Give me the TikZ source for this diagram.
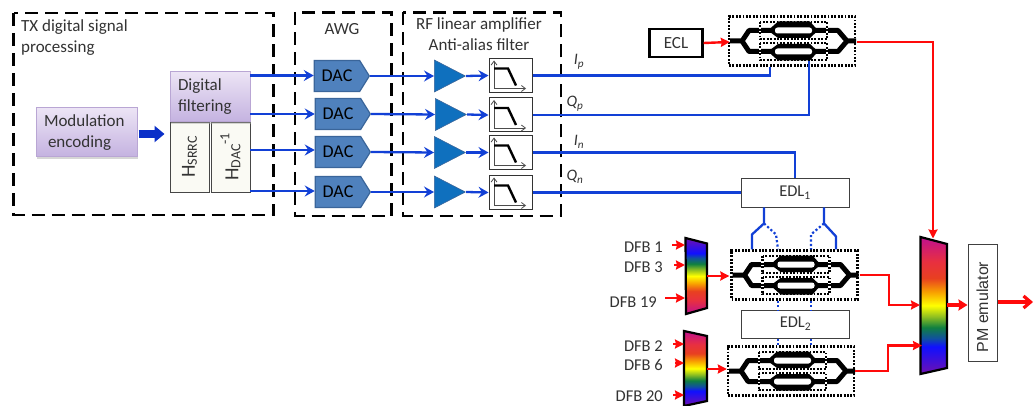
\documentclass[tikz,border=0pt]{standalone}
\usepackage{fontspec}
\setmainfont{Carlito}
\newfontfamily\arialf{Liberation Sans}
\usetikzlibrary{arrows.meta,calc,shadows,shapes.geometric,shapes.symbols}
\definecolor{sigblue}{HTML}{1240D6}
\definecolor{thickblue}{HTML}{0A2FC8}
\definecolor{redl}{HTML}{FF0A0A}
\definecolor{dacfill}{HTML}{4F81BD}
\definecolor{dacline}{HTML}{3A659A}
\definecolor{ampfill}{HTML}{0F70BE}
\definecolor{txtc}{HTML}{333333}
\definecolor{purpline}{HTML}{B9A6D4}
\definecolor{purptop}{HTML}{ECE4F5}
\definecolor{purpbot}{HTML}{C4B2E0}
\definecolor{hline}{HTML}{464646}
\definecolor{hfill}{HTML}{FAFAF4}
\definecolor{spA}{HTML}{7010B0}
\definecolor{spB}{HTML}{1010FF}
\definecolor{spC}{HTML}{1050A0}
\definecolor{spD}{HTML}{108040}
\definecolor{spE}{HTML}{90C020}
\definecolor{spF}{HTML}{FFFF00}
\definecolor{spG}{HTML}{F8A000}
\definecolor{spH}{HTML}{E84020}
\definecolor{spI}{HTML}{E83040}
\definecolor{spJ}{HTML}{C0108F}
\pgfdeclareverticalshading{specband}{100bp}{
 color(0bp)=(spA); color(25bp)=(spA);
 color(35bp)=(spB); color(38bp)=(spC); color(42bp)=(spD);
 color(46bp)=(spE); color(50bp)=(spF); color(55bp)=(spG);
 color(60bp)=(spH); color(66bp)=(spI); color(75bp)=(spJ);
 color(100bp)=(spJ)}
\tikzset{
 groupbox/.style={draw=black,line width=2.4pt,dash pattern=on 13pt off 7pt},
 purplebox/.style={draw=purpline,line width=1pt,top color=purptop,bottom color=purpbot,general shadow={fill=black!35,opacity=.45,shadow xshift=1pt,shadow yshift=-2pt},inner sep=0pt,text=txtc,font=\fontsize{17}{21}\selectfont,align=left},
 hbox/.style={draw=hline,line width=.8pt,fill=hfill,minimum width=39pt,minimum height=70pt,inner sep=0pt},
 dacbox/.style={signal,signal to=east,signal pointer angle=116,draw=dacline,line width=1.2pt,fill=dacfill,minimum width=55pt,minimum height=31pt,inner sep=0pt,text=black,font=\fontsize{18}{20}\selectfont},
 ampbox/.style={isosceles triangle,isosceles triangle stretches,minimum width=32pt,minimum height=31pt,inner sep=0pt,draw=dacline,line width=.6pt,fill=ampfill},
 filbox/.style={draw=black!80,line width=1pt,fill=white,minimum width=43pt,minimum height=34pt,inner sep=0pt},
 sig/.style={draw=sigblue,line width=2.3pt},
 sigarrow/.style={sig,-{Stealth[length=10pt,width=11pt,inset=3.5pt]}},
 sigdot/.style={draw=sigblue,line width=2.2pt,dash pattern=on 2.2pt off 2.2pt},
 rl/.style={draw=redl,line width=2.4pt},
 rlarrow/.style={rl,-{Stealth[length=9pt,width=9pt,inset=1pt]}},
 wg/.style={draw=black,line width=5pt,line join=round},
 dotb/.style={draw=black,line width=2.4pt,dash pattern=on 1.9pt off 1.5pt},
 whb/.style={draw=white,line width=2.4pt},
 modbox/.style={dotb,minimum width=126pt,minimum height=49pt,inner sep=0pt},
 edlbox/.style={draw=black!75,line width=.9pt,fill=white,minimum width=108pt,minimum height=29pt,inner sep=0pt,text=txtc,font=\fontsize{16.5}{18}\selectfont},
 lbl/.style={inner sep=0pt,text=txtc,font=\fontsize{17}{20}\selectfont},
 dfb/.style={inner sep=0pt,anchor=east,text=txtc,font=\fontsize{16.5}{18}\selectfont},
 iq/.style={inner sep=0pt,text=txtc,font=\fontsize{16}{18}\selectfont\itshape},
 mux/.style={draw=black,line width=2.2pt,line join=miter,shade,shading=specband}
}
\newcommand\iqmod[3]{%
 \node[modbox] (#1) at (#2,#3) {};
 \begin{scope}[shift={(#2,#3)}]
  \draw[wg] (-62,0) -- (-50,0) -- (-43,-10.5) -- (46,-10.5) -- (55,0) -- (64,0);
  \draw[wg] (-50,0) -- (-43,10.5) -- (46,10.5) -- (55,0);
  \foreach \a/\b in {-19/-2,2/19}{
   \draw[whb] (-32,\a) rectangle (35,\b);
   \draw[dotb] (-32,\a) rectangle (35,\b);
  }
  \foreach \s in {-1,1}{
   \fill[black] (-24,\s*10.5) -- (-14,\s*19.5) -- (18,\s*19.5) -- (26,\s*10.5) -- (18,\s*3) -- (-14,\s*3) -- cycle;
   \fill[white,rounded corners=2.5pt] (-17,\s*13.5) rectangle (20,\s*7.5);
  }
 \end{scope}}
\newcommand\filt[2]{%
 \node[filbox] (#1) at (510.5,#2) {};
 \begin{scope}[shift={(510.5,#2)}]
  \draw[draw=black!70,line width=.8pt,{Straight Barb[length=4pt,width=6pt]}-{Straight Barb[length=4pt,width=6pt]}] (-16.5,-15) -- (-16.5,13) -- (15.5,13);
  \draw[draw=black,line width=2.4pt] (-16.5,-7) -- (-2.5,-7) -- (5.5,10);
 \end{scope}}
\begin{document}
\begin{tikzpicture}[x=1pt,y=-1pt]
\useasboundingbox[fill=white] (0,0) rectangle (1033,406);
% group boxes
\draw[groupbox] (13.5,13) rectangle (273.5,215);
\draw[groupbox] (295,12.5) rectangle (391.5,216);
\draw[groupbox] (403,12.5) rectangle (561,216);
\node[lbl,anchor=west] (ttl1) at (21,27) {TX digital signal};
\node[lbl,anchor=west] (ttl2) at (21,48) {processing};
\node[lbl] (ttl3) at (342,29) {AWG};
\node[lbl] (ttl4) at (479,24.5) {RF linear amplifier};
\node[lbl] (ttl5) at (479,45) {Anti-alias filter};
% DSP
\node[purplebox,minimum width=101pt,minimum height=49pt,text width=85pt] (modenc) at (86.5,132.5) {Modulation\\\hspace*{4pt}encoding};
\node[hbox] (hs) at (189.5,157) {\rotatebox{90}{\fontsize{20}{20}\selectfont\color{txtc}H\raisebox{-2pt}{\fontsize{14}{14}\selectfont SRRC}}};
\node[hbox] (hd) at (230.5,157) {\rotatebox{90}{\fontsize{20}{20}\selectfont\color{txtc}H\raisebox{-2pt}{\fontsize{14}{14}\selectfont DAC}\raisebox{9pt}{\fontsize{14}{14}\selectfont -1}}};
\node[purplebox,minimum width=80pt,minimum height=50pt,text width=64pt] (digf) at (210,97) {Digital\\filtering};
\draw[draw=thickblue,line width=8pt,-{Triangle[length=10pt,width=16pt]}] (138.5,134) -- (164.5,134);
% DACs, amps, filters
\foreach \n/\y/\x in {1/76/337,2/114/338,3/152/338,4/192/338}{
 \node[dacbox] (dac\n) at (\x,\y) {DAC};
}
\foreach \n/\y/\x in {1/76/434,2/114.5/435,3/152.5/434,4/192/434}{
 \node[ampbox,anchor=lower side] (amp\n) at (\x,\y) {};
}
\filt{fil1}{75.5}
\filt{fil2}{115}
\filt{fil3}{152.5}
\filt{fil4}{192.5}
\coordinate (d1) at (250,75.5);
\coordinate (d2) at (250,114);
\coordinate (d3) at (250,150);
\coordinate (d4) at (250,191);
\foreach \n in {1,2,3,4}{
 \draw[sigarrow] (d\n) -- (dac\n.west |- d\n);
 \draw[sigarrow] (dac\n.east) -- (amp\n.lower side);
 \draw[sigarrow] (amp\n.apex) -- (fil\n.west);
}
\node[iq] (lip) at (579,62) {I\textsubscript{p}};
\node[iq] (lqp) at (575,104) {Q\textsubscript{p}};
\node[iq] (lin) at (579,142) {I\textsubscript{n}};
\node[iq] (lqn) at (575,177) {Q\textsubscript{n}};
% right part
\node[draw=black,line width=2.2pt,minimum width=53pt,minimum height=28pt,inner sep=0pt,text=txtc,font=\fontsize{17}{20}\selectfont] (ecl) at (676,43) {ECL};
\iqmod{mzA}{792}{41}
\iqmod{mzB}{794.5}{275}
\iqmod{mzC}{791}{371}
\node[edlbox] (edlA) at (795,192.5) {EDL\textsubscript{1}};
\node[edlbox,minimum height=28pt] (edlB) at (795.5,324) {EDL\textsubscript{2}};
\draw[sig] (fil1.east) -| ($(mzA.south)+(-22,0)$);
\draw[sig] (fil2.east) -| ($(mzA.south)+(17,-6)$);
\draw[sig] (fil3.east) -| (edlA.north);
\draw[sig] (fil4.east) -- (edlA.west);
% EDL1 to modulator
\coordinate (jl) at ($(edlA.south)+(-31,16)$);
\coordinate (jr) at ($(edlA.south)+(29,16)$);
\draw[sig,line join=round] ($(edlA.south)+(-31,0)$) -- (jl) -- ($(jl)+(-12,11)$) -- ($(mzB.north)+(-42.5,0)$);
\draw[sig,line join=round] ($(edlA.south)+(29,0)$) -- (jr) -- ($(jr)+(12,13)$) -- ($(mzB.north)+(41.5,0)$);
\draw[sigdot] (jl) -- ($(jl)+(12,11)$) -- ($(mzB.north)+(-16.5,0)$);
\draw[sigdot] (jr) -- ($(jr)+(-13,11)$) -- ($(mzB.north)+(16.5,0)$);
\foreach \o in {-16.5,16.5}{
 \draw[sigdot] ($(mzB.south)+(\o,0)$) -- ($(mzB.south)+(\o,10)$);
 \draw[sigdot] ($(mzB.south)+(\o,38)$) -- ($(mzB.south)+(\o,46)$);
}
% multiplexers
\draw[mux,shading angle=180] (685.5,238) -- (707,243.5) -- (707,308) -- (686,314) -- cycle;
\draw[mux] (684,331) -- (707,336) -- (707,401) -- (684,406) -- cycle;
\draw[mux] (920.5,237) -- (947,244) -- (947,368) -- (920.5,374) -- cycle;
\coordinate (mux1o) at (707,276);
\coordinate (mux2o) at (707,369);
\coordinate (mux3t) at (933,238.5);
\coordinate (mux3a) at (920,305);
\coordinate (mux3b) at (922,345.5);
\coordinate (mux3o) at (947,305);
\foreach \n/\t/\y/\r in {f1/DFB 1/247/663,f3/DFB 3/267/663,f19/DFB 19/302/657,f2/DFB 2/346/663,f6/DFB 6/365/663,f20/DFB 20/396/663}{
 \node[dfb] (\n) at (\r,\y) {\t};
}
\draw[rlarrow] ($(f1.east)+(9,-2)$) -- ($(f1.east)+(22,-2)$);
\draw[rlarrow] ($(f3.east)+(11,-2)$) -- ($(f3.east)+(22,-2)$);
\draw[rlarrow] ($(f19.east)+(8,-4)$) -- ($(f19.east)+(28,-4)$);
\draw[rlarrow] ($(f2.east)+(10,-2)$) -- ($(f2.east)+(21,-2)$);
\draw[rlarrow] ($(f6.east)+(12,-2)$) -- ($(f6.east)+(21,-2)$);
\draw[rlarrow] ($(f20.east)+(10,-1)$) -- ($(f20.east)+(21,-1)$);
\draw[rlarrow] (ecl.east) -- ($(mzA.west)+(2,1)$);
\draw[rlarrow] (mux1o) -- ($(mzB.west)+(-1,1)$);
\draw[rlarrow] (mux2o) -- ($(mzC.west)+(0,-2)$);
\draw[rlarrow] ($(mzA.east)+(1,1)$) -| (mux3t);
\draw[rlarrow] ($(mzB.east)+(1,0)$) -- (889,275) -- (889,305) -- (mux3a);
\draw[rlarrow] ($(mzC.east)+(0,0)$) -- (888,371) -- (888,345.5) -- (mux3b);
\node[draw=black!75,line width=1pt,minimum width=29pt,minimum height=117pt,inner sep=0pt] (pm) at (982.5,302.5) {\rotatebox{90}{\arialf\fontsize{16}{18}\selectfont\color{txtc}PM emulator\hspace{9pt}}};
\draw[draw=redl,line width=3.4pt,-{Stealth[length=9pt,width=11pt,inset=1pt]}] (mux3o) -- (pm.west |- mux3o);
\coordinate (outp) at (1033,302);
\draw[draw=redl,line width=3.2pt,-{Straight Barb[length=7pt,width=12pt]}] (pm.east |- outp) -- (outp);
\end{tikzpicture}
\end{document}
